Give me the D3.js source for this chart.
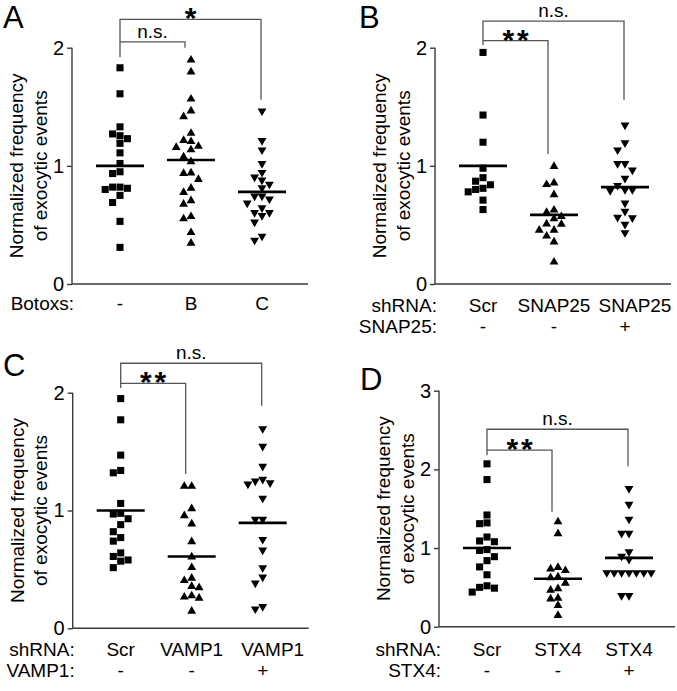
<!DOCTYPE html>
<html>
<head>
<meta charset="utf-8">
<script src="https://cdn.jsdelivr.net/npm/d3@7"></script>
<style>
  body { margin: 0; background: #fff; }
  text { font-family: "Liberation Sans", Arial, sans-serif; fill: #000; }
</style>
</head>
<body>
<div id="fig"></div>
<script>
var width = 677;
var height = 691;

// ---- data ----
var rowNamesA = ["Botoxs:"];
var rowsA = [["-", "B", "C"]];
var valuesA = [
    [1.83, 1.61, 1.33, 1.27, 1.255, 1.23, 1.19, 1.11, 1.02, 0.95, 0.935, 0.82, 0.81, 0.82, 0.80, 0.75, 0.69, 0.53, 0.31],
    [1.90, 1.80, 1.57, 1.47, 1.42, 1.28, 1.22, 1.21, 1.17, 1.16, 1.14, 1.08, 1.04, 0.945, 0.94, 0.89, 0.815, 0.78, 0.71, 0.68, 0.575, 0.556, 0.44, 0.35],
    [1.46, 1.21, 1.13, 1.015, 0.94, 0.90, 0.875, 0.84, 0.81, 0.74, 0.715, 0.74, 0.68, 0.64, 0.60, 0.60, 0.575, 0.52, 0.366, 0.40]
];
var meansA = [1.0, 1.05, 0.78];
var ticksA = [0, 1, 2];

var rowNamesB = ["shRNA:", "SNAP25:"];
var rowsB = [["Scr", "SNAP25", "SNAP25"], ["-", "-", "+"]];
var valuesB = [
    [1.96, 1.43, 1.20, 0.98, 0.90, 0.87, 0.84, 0.81, 0.80, 0.78, 0.71, 0.63],
    [1.00, 0.86, 0.846, 0.76, 0.63, 0.61, 0.575, 0.556, 0.513, 0.51, 0.46, 0.46, 0.41, 0.36, 0.19],
    [1.34, 1.19, 1.13, 1.015, 1.015, 0.96, 0.89, 0.83, 0.795, 0.787, 0.795, 0.68, 0.61, 0.556, 0.56, 0.50, 0.43]
];
var meansB = [1.0, 0.585, 0.82];
var ticksB = [0, 1, 2];

var rowNamesC = ["shRNA:", "VAMP1:"];
var rowsC = [["Scr", "VAMP1", "VAMP1"], ["-", "-", "+"]];
var valuesC = [
    [1.95, 1.77, 1.47, 1.34, 1.32, 1.06, 0.976, 0.97, 0.93, 0.88, 0.82, 0.77, 0.74, 0.64, 0.61, 0.58, 0.57, 0.515],
    [1.21, 1.21, 1.02, 0.96, 0.89, 0.74, 0.61, 0.52, 0.43, 0.41, 0.36, 0.35, 0.28, 0.27, 0.26, 0.15],
    [1.69, 1.54, 1.37, 1.26, 1.245, 1.23, 1.22, 1.10, 0.92, 0.92, 0.75, 0.66, 0.51, 0.43, 0.38, 0.18, 0.16]
];
var meansC = [1.0, 0.61, 0.895];
var ticksC = [0, 1, 2];

var rowNamesD = ["shRNA:", "STX4:"];
var rowsD = [["Scr", "STX4", "STX4"], ["-", "-", "+"]];
var valuesD = [
    [2.07, 1.87, 1.42, 1.32, 1.31, 1.14, 1.09, 1.08, 0.98, 0.97, 0.89, 0.84, 0.76, 0.66, 0.52, 0.50, 0.49, 0.44],
    [1.34, 1.19, 0.76, 0.74, 0.72, 0.64, 0.63, 0.56, 0.49, 0.47, 0.37, 0.36, 0.275, 0.15],
    [1.75, 1.55, 1.36, 1.18, 1.18, 0.945, 0.89, 0.85, 0.68, 0.68, 0.68, 0.68, 0.68, 0.68, 0.68, 0.39, 0.39]
];
var meansD = [1.0, 0.61, 0.875];
var ticksD = [0, 1, 2, 3];

// brackets: from group, to group, label, bar level, left leg end, right leg end (all in y units)
var bracketsA = [
    { from: 0, to: 2, label: "*", level: 2.24, leftEnd: 2.05, rightEnd: 1.56 },
    { from: 0, to: 1, label: "n.s.", level: 2.05, leftEnd: 1.92, rightEnd: 2.0 }
];
var bracketsB = [
    { from: 0, to: 2, label: "n.s.", level: 2.225, leftEnd: 2.06, rightEnd: 1.56 },
    { from: 0, to: 1, label: "**", level: 2.06, leftEnd: 2.02, rightEnd: 1.10 }
];
var bracketsC = [
    { from: 0, to: 2, label: "n.s.", level: 2.25, leftEnd: 2.08, rightEnd: 1.89 },
    { from: 0, to: 1, label: "**", level: 2.08, leftEnd: 2.04, rightEnd: 1.31 }
];
var bracketsD = [
    { from: 0, to: 2, label: "n.s.", level: 2.51, leftEnd: 2.245, rightEnd: 2.04 },
    { from: 0, to: 1, label: "**", level: 2.245, leftEnd: 2.18, rightEnd: 1.46 }
];

var symbolsAll = ["square", "up", "down"];

// ---- layout ----
var panels = [
    { letter: "A", lx: 3, ly: 28, left: 72, bottom: 284, top: 47.7, ymax: 2, ticks: ticksA,
      values: valuesA, means: meansA, rowNames: rowNamesA, rows: rowsA, brackets: bracketsA, shift: 0, rowY: 26 },
    { letter: "B", lx: 359, ly: 28, left: 435, bottom: 284, top: 47.7, ymax: 2, ticks: ticksB,
      values: valuesB, means: meansB, rowNames: rowNamesB, rows: rowsB, brackets: bracketsB, shift: 10, rowY: 28 },
    { letter: "C", lx: 3, ly: 376, left: 72.7, bottom: 628.3, top: 392.7, ymax: 2, ticks: ticksC,
      values: valuesC, means: meansC, rowNames: rowNamesC, rows: rowsC, brackets: bracketsC, shift: 10, rowY: 28 },
    { letter: "D", lx: 360, ly: 390, left: 439, bottom: 626.7, top: 390.7, ymax: 3, ticks: ticksD,
      values: valuesD, means: meansD, rowNames: rowNamesD, rows: rowsD, brackets: bracketsD, shift: 0, rowY: 29 }
];

var svg = d3.select("#fig")
    .append("svg")
    .attr("width", width)
    .attr("height", height);

var fontSize = 19;
var axisColor = "#3a3a3a";
var bracketColor = "#555";

/*
    simple beeswarm: walk the points from high to low and put each
    one in the first free slot (0, -1, +1, -2, +2 ...)
*/
function swarm(vals, y, gap) {
    var order = d3.range(vals.length).sort(function (a, b) { return vals[b] - vals[a]; });
    var placed = [];
    var slot = new Array(vals.length);
    order.forEach(function (i) {
        var py = y(vals[i]);
        for (var k = 0; k < 20; k++) {
            var o = k === 0 ? 0 : (k % 2 ? -Math.ceil(k / 2) : Math.ceil(k / 2));
            var hit = placed.some(function (p) { return p.o === o && Math.abs(p.y - py) < gap; });
            if (!hit) {
                slot[i] = o;
                placed.push({ o: o, y: py });
                break;
            }
        }
    });
    return slot;
}

var square = d3.symbol().type(d3.symbolSquare).size(50);
var tri = d3.symbol().type(d3.symbolTriangle).size(34);

panels.forEach(drawPanel);

function drawPanel(p) {
    var g = svg.append("g");
    var plotW = 236;

    var y = d3.scaleLinear()
        .domain([0, p.ymax])
        .range([p.bottom, p.top]);

    var x = d3.scalePoint()
        .domain([0, 1, 2])
        .range([p.left + 48, p.left + 190]);

    // panel letter
    g.append("text")
        .attr("x", p.lx)
        .attr("y", p.ly)
        .style("font-size", "31px")
        .text(p.letter);

    // y axis
    var yAxis = d3.axisLeft(y)
        .tickValues(p.ticks)
        .tickFormat(d3.format("d"))
        .tickSize(5)
        .tickPadding(3);
    var ya = g.append("g")
        .attr("transform", "translate(" + p.left + ",0)")
        .call(yAxis);
    ya.select(".domain").attr("stroke", axisColor).attr("stroke-width", 1.4)
        .attr("d", "M0," + p.top + "V" + p.bottom);
    ya.selectAll(".tick line").attr("stroke", axisColor).attr("stroke-width", 1.4);
    ya.selectAll(".tick text")
        .style("font-size", "20px")
        .style("font-family", "'Liberation Sans', Arial, sans-serif")
        .attr("fill", "#000");

    // x axis line
    g.append("line")
        .attr("x1", p.left)
        .attr("x2", p.left + plotW)
        .attr("y1", p.bottom)
        .attr("y2", p.bottom)
        .attr("stroke", axisColor)
        .attr("stroke-width", 1.4);

    // y axis title
    var midY = (p.top + p.bottom) / 2;
    ["Normalized frequency", "of exocytic events"].forEach(function (t, i) {
        g.append("text")
            .attr("transform", "translate(" + (p.left - 49 + i * 23.5) + "," + midY + ") rotate(-90)")
            .attr("text-anchor", "middle")
            .style("font-size", fontSize + "px")
            .text(t);
    });

    // category rows under the axis
    p.rows.forEach(function (row, r) {
        var by = p.bottom + p.rowY + r * 21;
        g.append("text")
            .attr("x", p.left + 2)
            .attr("y", by)
            .attr("text-anchor", "end")
            .style("font-size", fontSize + "px")
            .text(p.rowNames[r]);
        g.selectAll(null)
            .data(row)
            .enter().append("text")
            .attr("x", function (d, i) { return x(i) + (r === 0 && i === 2 ? p.shift : 0); })
            .attr("y", by)
            .attr("text-anchor", "middle")
            .style("font-size", fontSize + "px")
            .text(function (d) { return d; });
    });

    // points
    p.values.forEach(function (vals, gi) {
        var slots = swarm(vals, y, 7.2);
        var kind = symbolsAll[gi];
        g.selectAll(null)
            .data(vals)
            .enter().append("path")
            .attr("d", kind === "square" ? square : tri)
            .attr("transform", function (d, i) {
                var px = x(gi) + slots[i] * 7.4;
                var py = y(d);
                if (kind === "down") return "translate(" + px + "," + (py - 0.5) + ") rotate(180)";
                if (kind === "up") return "translate(" + px + "," + (py + 0.5) + ")";
                return "translate(" + px + "," + py + ")";
            })
            .attr("fill", "#000");
    });

    // mean lines
    g.selectAll(null)
        .data(p.means)
        .enter().append("line")
        .attr("x1", function (d, i) { return x(i) - 24; })
        .attr("x2", function (d, i) { return x(i) + 24; })
        .attr("y1", function (d) { return y(d); })
        .attr("y2", function (d) { return y(d); })
        .attr("stroke", "#000")
        .attr("stroke-width", 2.6);

    // significance brackets
    p.brackets.forEach(function (b) {
        var x1 = x(b.from);
        var x2 = x(b.to) + (b.to === 1 ? -6 : -1);
        var ly = y(b.level);
        g.append("path")
            .attr("d", "M" + x1 + "," + y(b.leftEnd) + "V" + ly + "H" + x2 + "V" + y(b.rightEnd))
            .attr("fill", "none")
            .attr("stroke", bracketColor)
            .attr("stroke-width", 1.3);
        var cx = (x1 + x2) / 2;
        if (b.label === "n.s.") {
            g.append("text")
                .attr("x", cx)
                .attr("y", ly - 4)
                .attr("text-anchor", "middle")
                .style("font-size", fontSize + "px")
                .text(b.label);
        } else {
            // asterisks, one text per star
            var n = b.label.length;
            d3.range(n).forEach(function (k) {
                g.append("text")
                    .attr("x", cx + (k - (n - 1) / 2) * 14.5)
                    .attr("y", ly - 9 + 18)
                    .attr("text-anchor", "middle")
                    .style("font-size", "30px")
                    .style("font-weight", "bold")
                    .text("*");
            });
        }
    });
}
</script>
</body>
</html>
